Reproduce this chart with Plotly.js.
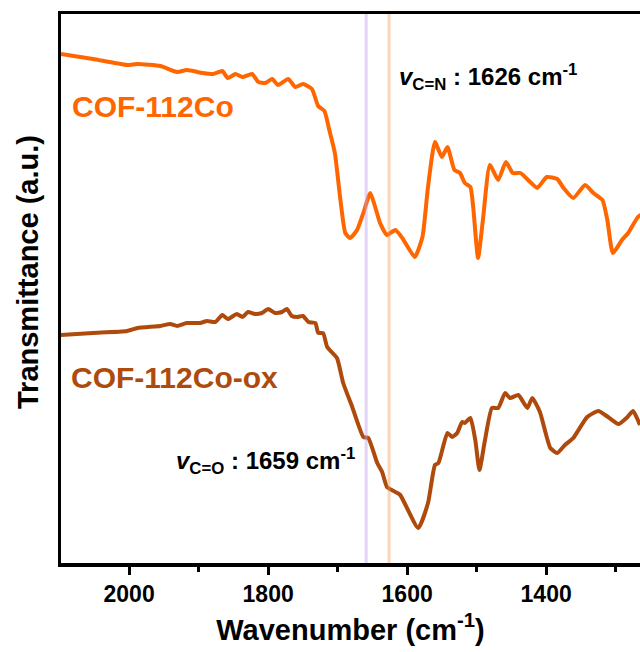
<!DOCTYPE html>
<html>
<head>
<meta charset="utf-8">
<script src="https://cdn.plot.ly/plotly-3.0.1.min.js"></script>
<style>html,body{margin:0;padding:0;background:#fff;}#plot{width:640px;height:652px;}</style>
</head>
<body>
<div id="plot"></div>
<script>
// COF-112Co (upper trace): wavenumber (cm-1) and transmittance (a.u.)
const wnCo = [2098,2052,2003,1988,1955,1931,1917,1894,1879,1866,1858,1847,1837,1823,1814,1804,1794,1786,1771,1761,1750,1737,1728,1719,1712,1704,1696,1689,1682,1672,1663,1653,1646,1639,1629,1617,1607,1589,1578,1570,1560,1550,1542,1532,1524,1517,1509,1505,1498,1491,1481,1469,1458,1448,1437,1423,1413,1399,1384,1376,1361,1344,1332,1319,1312,1304,1291,1282,1268,1262];
const tCo = [54.6,54.1,53.5,53.6,53.4,52.8,53.0,52.7,52.6,52.9,52.2,52.6,52.3,52.6,51.8,51.7,52.1,51.5,52.1,51.3,51.6,51.1,49.4,48.9,47.0,44.7,40.0,36.7,36.2,37.0,38.7,40.7,39.3,37.7,36.5,37.0,36.2,34.3,36.3,41.3,45.8,44.3,45.3,43.0,42.7,41.7,41.3,39.3,34.2,38.0,43.5,42.0,43.8,42.7,42.7,41.8,41.2,42.3,42.1,41.3,40.2,41.5,40.7,40.0,38.0,34.7,36.0,36.7,38.3,38.6];

// COF-112Co-ox (lower trace)
const wnOx = [2099,2052,2003,1988,1955,1941,1931,1917,1898,1888,1876,1866,1858,1845,1837,1829,1819,1809,1800,1790,1780,1773,1766,1758,1750,1742,1732,1728,1721,1715,1701,1692,1679,1663,1656,1643,1636,1629,1617,1610,1584,1570,1560,1555,1542,1535,1528,1521,1517,1509,1502,1496,1488,1478,1469,1459,1452,1440,1427,1420,1409,1394,1384,1373,1361,1341,1325,1311,1296,1283,1275,1265];
const tOx = [26.5,26.7,26.9,27.2,27.4,27.6,27.4,27.7,27.7,27.9,27.8,28.5,28.1,28.6,28.3,28.8,28.6,28.7,29.1,28.7,28.8,29.1,28.4,28.3,28.4,27.8,27.7,26.7,26.7,25.3,24.2,21.7,19.3,16.3,16.2,13.7,12.8,11.3,10.8,10.5,7.2,9.7,13.5,13.7,16.7,16.3,16.7,17.8,17.7,18.2,16.0,13.0,16.0,19.2,19.2,20.7,20.2,20.5,19.2,20.2,18.8,15.2,14.7,15.5,16.2,18.3,18.9,18.3,17.6,18.3,18.9,17.5];

// marker band positions (cm-1)
const bandCO = 1659;
const bandCN = 1626;

const xTickVals = [2000, 1800, 1600, 1400];
const xTickText = ['2000', '1800', '1600', '1400'];

const FONT = 'Arial, "Liberation Sans", Helvetica, sans-serif';
const ORANGE = '#FF6600';
const BROWN = '#AE4A0C';

const traces = [
  {x: wnCo, y: tCo, type: 'scatter', mode: 'lines',
   line: {color: ORANGE, width: 4, shape: 'spline', smoothing: 0.5}, hoverinfo: 'skip'},
  {x: wnOx, y: tOx, type: 'scatter', mode: 'lines',
   line: {color: BROWN, width: 4, shape: 'spline', smoothing: 0.5}, hoverinfo: 'skip'}
];

const layout = {
  width: 640, height: 652,
  margin: {l: 61, r: 0, t: 14, b: 89},
  paper_bgcolor: '#ffffff', plot_bgcolor: '#ffffff',
  showlegend: false,
  font: {family: FONT, color: '#000'},
  xaxis: {
    range: [2098, 1265],
    tickmode: 'array', tickvals: xTickVals, ticktext: xTickText,
    ticks: 'outside', ticklen: 8, tickwidth: 3, tickcolor: '#000',
    minor: {dtick: 100, tick0: 2000, ticks: 'outside', ticklen: 5, tickwidth: 3, tickcolor: '#000', showgrid: false},
    showline: true, linewidth: 3.5, linecolor: '#000', mirror: true,
    showgrid: false, zeroline: false,
    tickfont: {family: FONT, size: 23, weight: 'bold', color: '#000'},
    title: {text: 'Wavenumber (cm<sup>-1</sup>)', font: {family: FONT, size: 29, weight: 'bold', color: '#000'}, standoff: 14}
  },
  yaxis: {
    range: [3.7, 58.6],
    showticklabels: false, ticks: '',
    showline: true, linewidth: 3.5, linecolor: '#000', mirror: false,
    showgrid: false, zeroline: false
  },
  shapes: [
    {type: 'line', xref: 'x', yref: 'paper', x0: bandCO, x1: bandCO, y0: 0, y1: 1,
     line: {color: 'rgba(190,160,235,0.45)', width: 3}, layer: 'above'},
    {type: 'line', xref: 'x', yref: 'paper', x0: bandCN, x1: bandCN, y0: 0, y1: 1,
     line: {color: 'rgba(245,150,80,0.4)', width: 3}, layer: 'above'}
  ],
  annotations: [
    {x: 2085, y: 49.4, xref: 'x', yref: 'y', xanchor: 'left', yanchor: 'middle', showarrow: false,
     text: 'COF-112Co', font: {family: FONT, size: 30, weight: 'bold', color: ORANGE}},
    {x: 2086, y: 22.3, xref: 'x', yref: 'y', xanchor: 'left', yanchor: 'middle', showarrow: false,
     text: 'COF-112Co-ox', font: {family: FONT, size: 30, weight: 'bold', color: BROWN}},
    {x: 1614, y: 52.3, xref: 'x', yref: 'y', xanchor: 'left', yanchor: 'middle', showarrow: false,
     text: '<i>v</i><sub>C=N</sub> : 1626 cm<sup>-1</sup>', font: {family: FONT, size: 24, weight: 'bold', color: '#000'}},
    {x: 1935, y: 13.9, xref: 'x', yref: 'y', xanchor: 'left', yanchor: 'middle', showarrow: false,
     text: '<i>v</i><sub>C=O</sub> : 1659 cm<sup>-1</sup>', font: {family: FONT, size: 24, weight: 'bold', color: '#000'}},
    {x: -0.057, y: 32.8, xref: 'paper', yref: 'y', xanchor: 'center', yanchor: 'middle', showarrow: false,
     textangle: -90, text: 'Transmittance (a.u.)', font: {family: FONT, size: 29, weight: 'bold', color: '#000'}}
  ]
};

Plotly.newPlot('plot', traces, layout, {staticPlot: true, displayModeBar: false});
</script>
</body>
</html>
